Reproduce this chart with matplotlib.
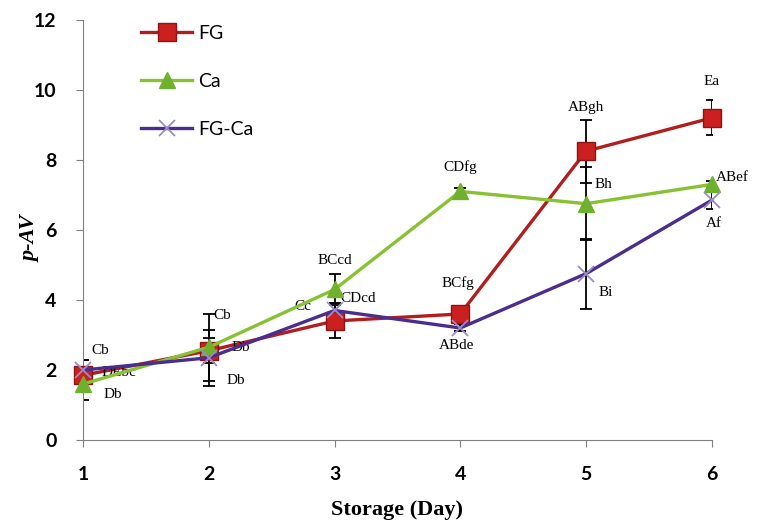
import matplotlib
matplotlib.use('Agg')
import matplotlib.pyplot as plt

days = [1, 2, 3, 4, 5, 6]

fg = [1.85, 2.55, 3.4, 3.6, 8.25, 9.2]
fg_err = [0.45, 0.35, 0.5, 0.1, 0.9, 0.5]
ca = [1.6, 2.65, 4.3, 7.1, 6.75, 7.3]
ca_err = [0.45, 0.95, 0.45, 0.1, 1.05, 0.1]
fgca = [2.0, 2.35, 3.7, 3.2, 4.75, 6.85]
fgca_err = [0.3, 0.8, 0.2, 0.1, 1.0, 0.25]

# significance letters: text, x, y, alignment
labels = [
    ('Cb', 1.07, 2.57, 'left'), ('DEbc', 1.15, 1.94, 'left'), ('Db', 1.16, 1.29, 'left'),
    ('Cb', 2.04, 3.57, 'left'), ('Db', 2.18, 2.63, 'left'), ('Db', 2.14, 1.69, 'left'),
    ('Cc', 2.75, 3.8, 'center'), ('BCcd', 3.0, 5.14, 'center'), ('CDcd', 3.05, 4.03, 'left'),
    ('CDfg', 4.0, 7.8, 'center'), ('BCfg', 3.98, 4.49, 'center'), ('ABde', 3.97, 2.71, 'center'),
    ('ABgh', 5.0, 9.5, 'center'), ('Bh', 5.07, 7.3, 'left'), ('Bi', 5.1, 4.2, 'left'),
    ('Ea', 6.0, 10.23, 'center'), ('ABef', 6.03, 7.5, 'left'), ('Af', 6.02, 6.17, 'center'),
]

fig = plt.figure(figsize=(7.58, 5.22), dpi=100)
ax = fig.add_axes([0.1095, 0.157, 0.8295, 0.805])

ekw = dict(ecolor='black', elinewidth=1.3, capsize=4, capthick=1.3, zorder=2)
ax.errorbar(days, fg, yerr=fg_err, fmt='none', **ekw)
ax.errorbar(days, ca, yerr=ca_err, fmt='none', **ekw)
ax.errorbar(days, fgca, yerr=fgca_err, fmt='none', **ekw)

ax.plot(days, fg, color='#B01E1E', lw=2.4, marker='s', ms=13, mfc='#CC1F1F',
        mec='#8E1515', label='FG', zorder=3, clip_on=False)
ax.plot(days, ca, color='#86C232', lw=2.4, marker='^', ms=12, mfc='#6FB02C',
        mec='#6FB02C', label='Ca', zorder=4, clip_on=False)
ax.plot(days, fgca, color='#4A2D8E', lw=2.4, marker='x', ms=11, mew=1.3,
        mec='#9A8CC8', label='FG-Ca', zorder=5, clip_on=False)

for txt, x, y, ha in labels:
    ax.text(x, y, txt, ha=ha, va='center', fontsize=11, family='Liberation Serif')

ax.set_xlim(1, 6)
ax.set_ylim(0, 12)
ax.set_xticks(days)
ax.set_yticks(range(0, 13, 2))
for s in ['top', 'right']:
    ax.spines[s].set_visible(False)
for s in ['left', 'bottom']:
    ax.spines[s].set_color('#808080')
ax.tick_params(axis='both', colors='#808080', length=5, direction='out', labelcolor='black', labelsize=14)
for t in ax.get_xticklabels() + ax.get_yticklabels():
    t.set_family('Lato')
    t.set_fontweight('bold')
ax.tick_params(axis='y', pad=14)
ax.tick_params(axis='x', pad=14)

ax.set_xlabel('Storage (Day)', family='Liberation Serif', fontweight='bold', fontsize=16, labelpad=12)
ax.set_ylabel('p-AV', family='Liberation Serif', fontweight='bold', style='italic', fontsize=16)
ax.yaxis.set_label_coords(-0.068, 0.48)

leg = ax.legend(loc='upper left', bbox_to_anchor=(0.065, 1.03), frameon=False, labelspacing=1.6,
                handlelength=2.6, handletextpad=0.3, prop={'family': 'Lato', 'size': 14})

fig.savefig('out.png', dpi=100)
